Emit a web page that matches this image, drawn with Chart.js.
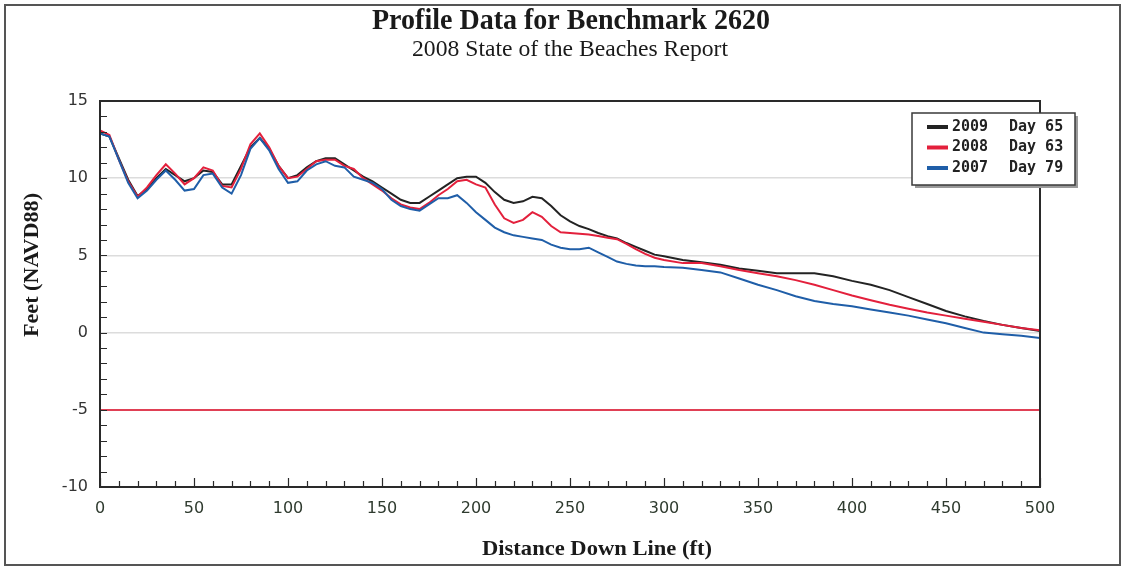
<!DOCTYPE html>
<html>
<head>
<meta charset="utf-8">
<script src="https://cdn.jsdelivr.net/npm/chart.js@4/dist/chart.umd.min.js"></script>
<style>
  html,body{margin:0;padding:0;background:#fff;}
  #wrap{position:relative;width:1126px;height:569px;}
</style>
</head>
<body>
<div id="wrap"><canvas id="c"></canvas></div>
<script>
// ---- data ----
const distance = [0,5,10,15,20,25,30,35,40,45,50,55,60,65,70,75,80,85,90,95,100,105,110,115,120,125,130,135,140,145,150,155,160,165,170,175,180,185,190,195,200,205,210,215,220,225,230,235,240,245,250,255,260,265,270,275,280,285,290,295,300,310,320,330,340,350,360,370,380,390,400,410,420,430,440,450,460,470,480,490,500];
const feet2009 = [12.9,12.7,11.3,9.9,8.85,9.3,10.0,10.6,10.2,9.8,10.0,10.5,10.4,9.6,9.6,10.8,12.0,12.6,11.9,10.8,10.0,10.2,10.7,11.1,11.3,11.3,10.9,10.5,10.1,9.8,9.4,9.0,8.6,8.4,8.4,8.8,9.2,9.6,10.0,10.1,10.1,9.7,9.1,8.6,8.4,8.5,8.8,8.7,8.2,7.6,7.2,6.9,6.7,6.45,6.25,6.1,5.8,5.55,5.3,5.05,4.95,4.7,4.55,4.4,4.15,4.0,3.85,3.85,3.85,3.65,3.35,3.1,2.75,2.3,1.85,1.4,1.05,0.75,0.5,0.3,0.1];
const feet2008 = [13.1,12.8,11.2,9.8,8.8,9.4,10.2,10.9,10.3,9.6,10.0,10.7,10.5,9.5,9.4,10.6,12.2,12.9,12.0,10.8,10.0,10.1,10.6,11.1,11.2,11.2,10.8,10.6,10.0,9.6,9.2,8.7,8.3,8.1,8.0,8.4,8.9,9.3,9.8,9.9,9.6,9.4,8.3,7.4,7.1,7.3,7.8,7.5,6.9,6.5,6.45,6.4,6.35,6.25,6.15,6.05,5.75,5.4,5.1,4.85,4.7,4.5,4.5,4.3,4.05,3.85,3.65,3.4,3.1,2.75,2.4,2.1,1.8,1.55,1.3,1.1,0.9,0.7,0.5,0.3,0.15];
const feet2007 = [12.9,12.7,11.2,9.7,8.7,9.2,9.9,10.5,9.9,9.2,9.3,10.2,10.3,9.4,9.0,10.2,11.9,12.6,11.8,10.6,9.7,9.8,10.5,10.9,11.1,10.8,10.7,10.1,9.9,9.7,9.3,8.6,8.2,8.0,7.9,8.3,8.7,8.7,8.9,8.4,7.8,7.3,6.8,6.5,6.3,6.2,6.1,6.0,5.7,5.5,5.4,5.4,5.5,5.2,4.9,4.6,4.45,4.35,4.3,4.3,4.25,4.2,4.05,3.9,3.5,3.1,2.75,2.35,2.05,1.85,1.7,1.5,1.3,1.1,0.85,0.6,0.3,0.0,-0.1,-0.2,-0.35];
const seriesNames = ["2009","2008","2007"];
const seriesDays = ["Day 65","Day 63","Day 79"];
const seriesColors = ["#232323","#e3203c","#1f5ea8"];
const xTicks = [0,50,100,150,200,250,300,350,400,450,500];
const yTicks = [-10,-5,0,5,10,15];

const toXY = arr => distance.map((d,i)=>({x:d,y:arr[i]}));
const allSeries = [feet2009, feet2008, feet2007];

function fitText(ctx, text, cx, cy, font, width){
  ctx.font = font;
  const w = ctx.measureText(text).width;
  ctx.save();
  ctx.translate(cx, cy);
  ctx.scale(width / w, 1);
  ctx.fillText(text, 0, 0);
  ctx.restore();
}

const decor = {
  id:'decor',
  afterDraw(chart){
    const ctx = chart.ctx, a = chart.chartArea;
    const xs = chart.scales.x, ys = chart.scales.y;
    ctx.save();
    // outer frame
    ctx.strokeStyle = '#555'; ctx.lineWidth = 2;
    ctx.strokeRect(5,5,1115,560);
    // plot frame
    ctx.strokeStyle = '#2a2a2a'; ctx.lineWidth = 2;
    ctx.strokeRect(a.left, a.top, a.right-a.left, a.bottom-a.top);
    // inward minor ticks
    ctx.lineWidth = 1.2; ctx.strokeStyle = '#2a2a2a';
    ctx.beginPath();
    for(let v=-10; v<=15; v++){
      const y = Math.round(ys.getPixelForValue(v))+0.5;
      ctx.moveTo(a.left, y); ctx.lineTo(a.left+7, y);
    }
    for(let d=0; d<=500; d+=10){
      const x = Math.round(xs.getPixelForValue(d))+0.5;
      const len = d%50===0 ? 9 : 6;
      ctx.moveTo(x, a.bottom); ctx.lineTo(x, a.bottom-len);
    }
    ctx.stroke();
    // titles
    ctx.fillStyle = '#1a1a1a';
    ctx.textAlign = 'center'; ctx.textBaseline = 'middle';
    fitText(ctx, 'Profile Data for Benchmark 2620', 571, 22, 'bold 29px "Liberation Serif"', 398);
    fitText(ctx, '2008 State of the Beaches Report', 570, 50, '23px "Liberation Serif"', 316);
    fitText(ctx, 'Distance Down Line (ft)', 597, 549, 'bold 22px "Liberation Serif"', 230);
    ctx.save();
    ctx.translate(32, 265); ctx.rotate(-Math.PI/2);
    fitText(ctx, 'Feet (NAVD88)', 0, 0, 'bold 22px "Liberation Serif"', 144);
    ctx.restore();
    // legend
    const bx=912, by=113, bw=163, bh=72;
    ctx.fillStyle = '#9a9a9a';
    ctx.fillRect(bx+3, by+3, bw, bh);
    ctx.fillStyle = '#fff';
    ctx.fillRect(bx, by, bw, bh);
    ctx.strokeStyle = '#3a3a3a'; ctx.lineWidth = 1.5;
    ctx.strokeRect(bx, by, bw, bh);
    ctx.font = 'bold 15px "DejaVu Sans Mono"';
    ctx.textAlign = 'left'; ctx.textBaseline = 'middle';
    for(let i=0;i<3;i++){
      const y = by + 14 + i*20.5;
      ctx.strokeStyle = seriesColors[i]; ctx.lineWidth = 4;
      ctx.beginPath(); ctx.moveTo(927,y); ctx.lineTo(948,y); ctx.stroke();
      ctx.fillStyle = '#222';
      ctx.fillText(seriesNames[i], 952, y);
      ctx.fillText(seriesDays[i], 1009, y);
    }
    ctx.restore();
  }
};

new Chart(document.getElementById('c'), {
  type:'line',
  data:{
    datasets: allSeries.map((arr,i)=>({
      label: seriesNames[i]+' '+seriesDays[i],
      data: toXY(arr),
      borderColor: seriesColors[i],
      backgroundColor: seriesColors[i],
      borderWidth: 2,
      pointRadius: 0,
      tension: 0,
      fill:false
    })).reverse()
  },
  options:{
    responsive:true, maintainAspectRatio:false, animation:false,
    layout:{padding:{top:101, right:86, bottom:0, left:0}},
    plugins:{legend:{display:false}, tooltip:{enabled:false}, title:{display:false}},
    scales:{
      x:{
        type:'linear', min:0, max:500,
        afterFit(s){ s.height = 82; },
        afterBuildTicks(s){ s.ticks = xTicks.map(v=>({value:v})); },
        ticks:{padding:12, font:{family:'DejaVu Sans', size:16}, color:'#2f3b2f', maxRotation:0},
        grid:{display:false, drawTicks:false},
        border:{display:false}
      },
      y:{
        min:-10, max:15,
        afterFit(s){ s.width = 100; },
        afterBuildTicks(s){ s.ticks = yTicks.map(v=>({value:v})); },
        ticks:{padding:12, font:{family:'DejaVu Sans', size:16}, color:'#333'},
        grid:{
          drawTicks:false,
          color: c => (c.tick && c.tick.value===-5) ? '#e04055' : ((c.tick && (c.tick.value===15||c.tick.value===-10)) ? 'rgba(0,0,0,0)' : '#dcdcdc'),
          lineWidth: c => (c.tick && c.tick.value===-5) ? 2 : 1.5
        },
        border:{display:false}
      }
    }
  },
  plugins:[decor]
});
</script>
</body>
</html>
